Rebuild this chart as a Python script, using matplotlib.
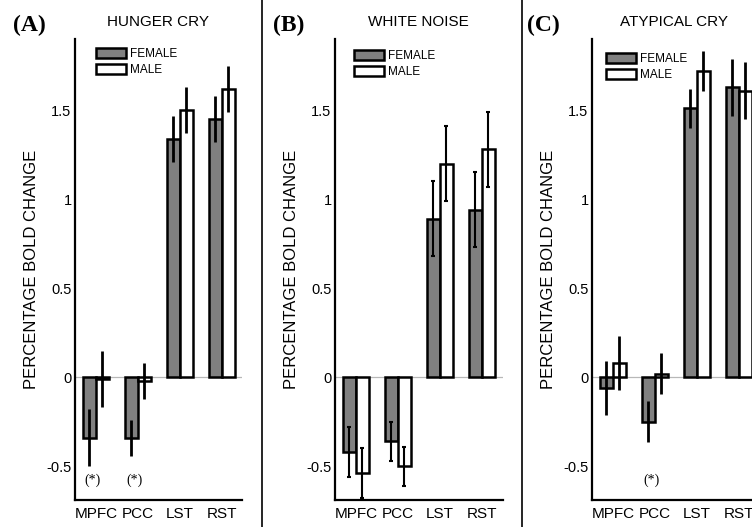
import numpy as np
import matplotlib
matplotlib.use('Agg')
import matplotlib.pyplot as plt
from matplotlib.lines import Line2D

plt.rcParams['font.family'] = ['Liberation Sans', 'DejaVu Sans']

regions = ['MPFC', 'PCC', 'LST', 'RST']

# (A) hunger cry
hunger_female = [-0.34, -0.34, 1.34, 1.45]
hunger_female_err = [0.16, 0.10, 0.13, 0.13]
hunger_male = [-0.01, -0.02, 1.50, 1.62]
hunger_male_err = [0.155, 0.10, 0.13, 0.13]
hunger_stars = ['MPFC', 'PCC']

# (B) white noise
noise_female = [-0.42, -0.36, 0.89, 0.94]
noise_female_err = [0.14, 0.11, 0.21, 0.21]
noise_male = [-0.54, -0.50, 1.20, 1.28]
noise_male_err = [0.14, 0.11, 0.21, 0.21]
noise_stars = []

# (C) atypical cry
atyp_female = [-0.06, -0.25, 1.51, 1.63]
atyp_female_err = [0.15, 0.115, 0.11, 0.16]
atyp_male = [0.08, 0.02, 1.72, 1.61]
atyp_male_err = [0.15, 0.115, 0.11, 0.16]
atyp_stars = ['PCC']

yticks = [-0.5, 0, 0.5, 1, 1.5]
ytick_labels = ['-0.5', '0', '0.5', '1', '1.5']

panels = [
    ('(A)', 'HUNGER CRY', hunger_female, hunger_female_err, hunger_male, hunger_male_err, hunger_stars),
    ('(B)', 'WHITE NOISE', noise_female, noise_female_err, noise_male, noise_male_err, noise_stars),
    ('(C)', 'ATYPICAL CRY', atyp_female, atyp_female_err, atyp_male, atyp_male_err, atyp_stars),
]

W, H = 752, 527
fig = plt.figure(figsize=(W / 100, H / 100), dpi=100)

# pixel layout of each panel: axes left, letter x, title center x, legend anchor
ax_left = [75, 335, 592]
letter_x = [13, 273, 527]
title_x = [158, 418, 674]
legend_anchor = [(0.125, 0.98), (0.114, 0.976), (0.084, 0.97)]
err_lw = [2.0, 1.5, 2.0]
caps = [0, 1.5, 0]

ax_w, ax_top, ax_bot = 167.5, 39, 500
x = np.arange(1, len(regions) + 1)
bw = 0.31

for i, (letter, title, fem, fem_err, mal, mal_err, stars) in enumerate(panels):
    ax = fig.add_axes([ax_left[i] / W, (H - ax_bot) / H, ax_w / W, (ax_bot - ax_top) / H])
    ax.axhline(0, color='#b8b8b8', lw=0.9, zorder=0)
    b1 = ax.bar(x - bw / 2, fem, bw, color='#808080', edgecolor='black', lw=1.8, label='FEMALE', zorder=2)
    b2 = ax.bar(x + bw / 2, mal, bw, color='white', edgecolor='black', lw=1.8, label='MALE', zorder=2)
    ax.errorbar(x - bw / 2, fem, yerr=fem_err, fmt='none', ecolor='black', elinewidth=err_lw[i],
                capsize=caps[i], capthick=1.5, zorder=3)
    ax.errorbar(x + bw / 2, mal, yerr=mal_err, fmt='none', ecolor='black', elinewidth=err_lw[i],
                capsize=caps[i], capthick=1.5, zorder=3)
    for s in stars:
        k = regions.index(s)
        ax.text(x[k] - 0.08, -0.58, '(*)', ha='center', va='center', fontsize=10,
                family=['Liberation Serif', 'DejaVu Serif'])

    ax.set_xlim(0.5, 4.5)
    ax.set_ylim(-0.69, 1.90)
    ax.set_xticks(x)
    ax.set_xticklabels(regions, fontsize=11)
    ax.set_yticks(yticks)
    ax.set_yticklabels(ytick_labels, fontsize=10.5)
    ax.tick_params(length=0, pad=2.5)
    ax.tick_params(axis='x', pad=5)
    for sp in ['top', 'right']:
        ax.spines[sp].set_visible(False)
    for sp in ['left', 'bottom']:
        ax.spines[sp].set_linewidth(1.6)
    ax.set_ylabel('PERCENTAGE BOLD CHANGE', fontsize=12)
    ax.yaxis.set_label_coords(-0.215, 0.5)

    ax.legend(handles=[b1, b2], loc='upper left', bbox_to_anchor=legend_anchor[i], frameon=False,
              fontsize=8.5, handlelength=2.55, handleheight=0.95, labelspacing=0.3,
              handletextpad=0.3, borderpad=0, borderaxespad=0)

    fig.text(letter_x[i] / W, 1 - 25 / H, letter, ha='left', va='center', fontsize=17,
             fontweight='bold', family=['Liberation Serif', 'DejaVu Serif'])
    fig.text(title_x[i] / W, 1 - 22 / H, title, ha='center', va='center', fontsize=11)

# separators between panels
for sx in [262, 522]:
    fig.add_artist(Line2D([sx / W, sx / W], [0, 1], color='black', lw=1.2))

fig.savefig('out.png', dpi=100)
